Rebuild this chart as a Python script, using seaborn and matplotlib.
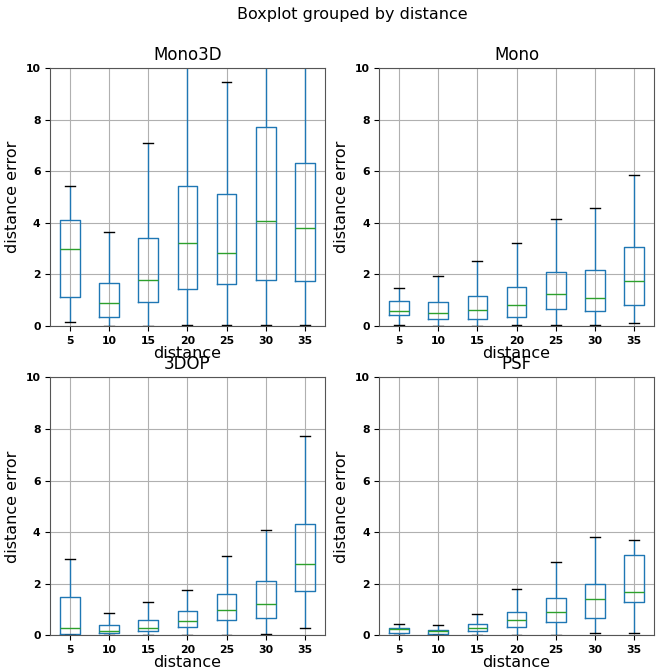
import numpy as np
import pandas as pd
import matplotlib
matplotlib.use("Agg")
import matplotlib.pyplot as plt
import seaborn as sns

# distances (x categories)
distances = [5, 10, 15, 20, 25, 30, 35]

# five-number samples per distance: [min, q1, median, q3, max]
mono3d = [
    [0.14, 1.13, 3.00, 4.09, 5.42],
    [0.00, 0.36, 0.87, 1.67, 3.65],
    [0.00, 0.93, 1.80, 3.42, 7.10],
    [0.02, 1.45, 3.20, 5.43, 12.0],
    [0.02, 1.62, 2.81, 5.10, 9.46],
    [0.05, 1.80, 4.07, 7.70, 14.5],
    [0.05, 1.76, 3.78, 6.33, 13.0],
]
mono = [
    [0.02, 0.44, 0.58, 0.96, 1.46],
    [0.00, 0.25, 0.49, 0.93, 1.93],
    [0.00, 0.28, 0.63, 1.16, 2.50],
    [0.02, 0.36, 0.80, 1.51, 3.20],
    [0.02, 0.65, 1.22, 2.10, 4.15],
    [0.02, 0.56, 1.09, 2.15, 4.57],
    [0.12, 0.80, 1.76, 3.08, 5.86],
]
dop3d = [
    [0.02, 0.05, 0.27, 1.50, 2.95],
    [0.00, 0.08, 0.16, 0.39, 0.88],
    [0.00, 0.16, 0.27, 0.58, 1.28],
    [0.00, 0.31, 0.54, 0.93, 1.74],
    [0.02, 0.58, 0.97, 1.59, 3.09],
    [0.05, 0.68, 1.21, 2.11, 4.07],
    [0.30, 1.71, 2.75, 4.33, 7.73],
]
psf = [
    [0.00, 0.10, 0.23, 0.27, 0.43],
    [0.00, 0.05, 0.15, 0.19, 0.39],
    [0.00, 0.16, 0.27, 0.43, 0.81],
    [0.00, 0.31, 0.58, 0.92, 1.81],
    [0.02, 0.50, 0.89, 1.46, 2.84],
    [0.08, 0.68, 1.40, 2.00, 3.82],
    [0.08, 1.30, 1.67, 3.11, 3.68],
]

methods = ["Mono3D", "Mono", "3DOP", "PSF"]
samples = [mono3d, mono, dop3d, psf]

rows = []
for name, groups in zip(methods, samples):
    for d, vals in zip(distances, groups):
        for v in vals:
            rows.append({"method": name, "distance": d, "distance error": v})
df = pd.DataFrame(rows)

fig, axes = plt.subplots(2, 2, figsize=(6.61, 6.68), dpi=100)
plt.subplots_adjust(left=0.076, right=0.989, top=0.898, bottom=0.049,
                    wspace=0.2, hspace=0.2)

for ax, name in zip(axes.flat, methods):
    sub = df[df["method"] == name]
    sns.boxplot(data=sub, x="distance", y="distance error", ax=ax,
                order=distances, fill=False, color="#1f77b4", width=0.5,
                whis=(0, 100), showfliers=False, linewidth=1,
                medianprops={"color": "#2ca02c"},
                capprops={"color": "black"},
                whiskerprops={"color": "#1f77b4"})
    ax.set_ylim(0, 10)
    ax.set_xlim(-0.5, 6.5)
    ax.grid(True, color="#b0b0b0", linewidth=0.8)
    ax.set_axisbelow(True)
    ax.set_title(name, fontsize=12)
    ax.set_xlabel("distance", fontsize=11.5, labelpad=0)
    ax.set_ylabel("distance error", fontsize=11.5)
    for lbl in ax.get_xticklabels() + ax.get_yticklabels():
        lbl.set_fontweight("bold")
        lbl.set_fontsize(7.8)
    for sp in ax.spines.values():
        sp.set_color("#555555")

fig.suptitle("Boxplot grouped by distance", fontsize=11.5, x=0.533, y=0.99)
fig.savefig("out.png", dpi=100)
